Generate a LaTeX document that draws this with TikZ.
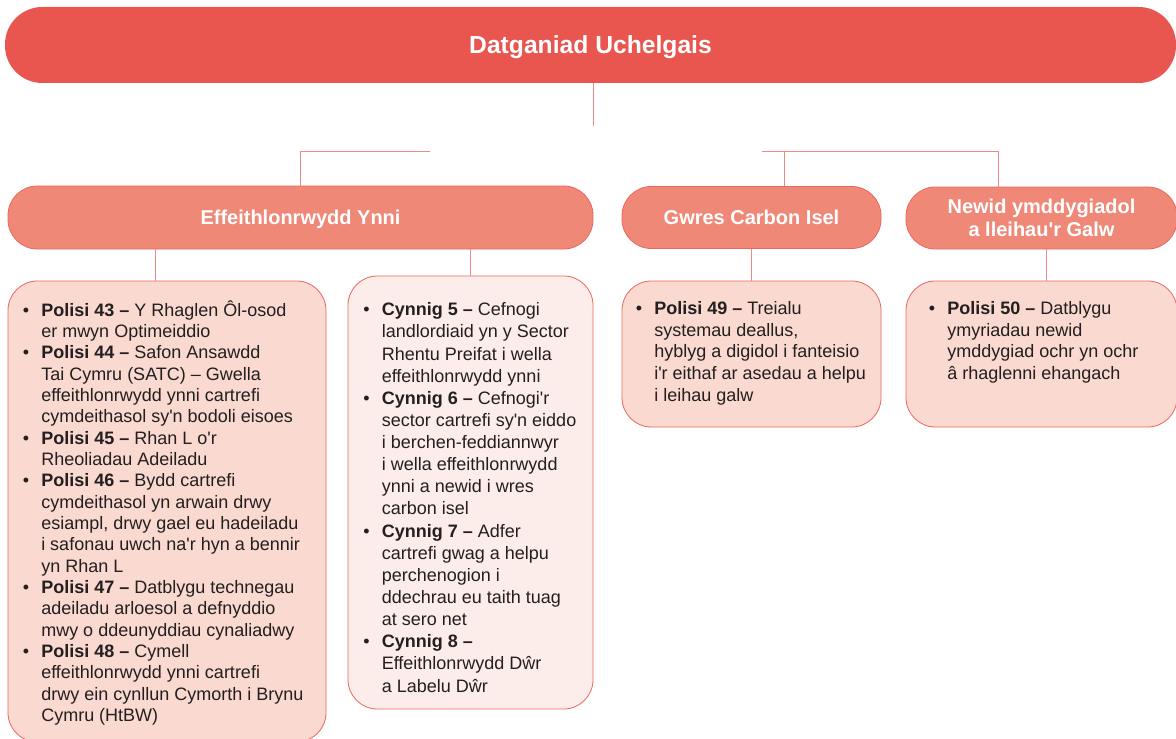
\documentclass[tikz,border=0pt]{standalone}
\usepackage{fontspec}
\setmainfont{Liberation Sans}[Ligatures=TeXOff]
\definecolor{titlered}{HTML}{E9554F}
\definecolor{midred}{HTML}{F08878}
\definecolor{boxpink}{HTML}{F9D9D0}
\definecolor{boxpale}{HTML}{FDEDEA}
\definecolor{edgered}{HTML}{EC665E}
\definecolor{linkred}{HTML}{EE8A85}
\definecolor{ink}{HTML}{231F20}
\newcommand{\pol}[1]{\llap{\textbullet\hspace{9pt}}\textbf{#1}}
\begin{document}
\begin{tikzpicture}[x=0.75pt,y=0.75pt,yscale=-1,xscale=1,
  headbox/.style={fill=titlered,draw=none,rounded corners=28pt,text=white,inner sep=0pt,text depth=0pt,
    font=\fontsize{18.5}{22}\selectfont\bfseries},
  midbox/.style={fill=midred,draw=edgered,line width=0.6pt,rounded corners=22pt,text=white,inner sep=0pt,
    align=center,minimum height=46.5pt,font=\fontsize{15}{17}\selectfont\bfseries},
  listbox/.style={fill=boxpink,draw=edgered,line width=0.6pt,rounded corners=22pt,inner sep=0pt},
  listtxt/.style={anchor=north west,inner sep=0pt,align=left,text=ink},
  link/.style={draw=linkred,line width=0.75pt}]
%set diagram to the size of the page
\useasboundingbox (0,0) rectangle (1176,738);

%Shape: Rounded Rect [id:title]
\node[headbox,minimum width=878.25pt,minimum height=57pt] (title) at (590.5,45) {Datganiad Uchelgais};

%Shape: Rounded Rect [id:themes]
\node[midbox,text depth=0pt,minimum width=438.75pt,minimum height=47.25pt] (effy) at (300.5,217.5) {Effeithlonrwydd Ynni};
\node[midbox,minimum width=194.25pt] (gwres) at (751.5,217.5) {Gwres Carbon Isel};
\node[midbox,minimum width=203.25pt] (newid) at (1041.5,218) {Newid ymddygiadol\\a lleihau'r Galw};

%Shape: Rounded Rect [id:lists]
\node[listbox,minimum width=238.5pt,minimum height=345.75pt] (b1) at (167,511.5) {};
\node[listbox,fill=boxpale,minimum width=183.75pt,minimum height=324.75pt] (b2) at (470.5,492.5) {};
\node[listbox,minimum width=194.25pt,minimum height=109.5pt] (b3) at (751.5,354) {};
\node[listbox,minimum width=203.25pt,minimum height=109.5pt] (b4) at (1041.5,354) {};

%Straight Lines [id:links]
\coordinate (c0) at (593,126);
\coordinate (c1) at (430,151);
\coordinate (c2) at (762,151);
\coordinate (c3) at (998,151);
\coordinate (c4) at (784,151);
\coordinate (c5) at (155,0);
\coordinate (c6) at (1046,0);
\draw[link] (title.south -| c0) -- (c0);
\draw[link] (c1) -- (c1 -| effy.north) -- (effy.north);
\draw[link] (c2) -- (c3) -- (c3 |- newid.north);
\draw[link] (c4) -- (c4 |- gwres.north);
\draw[link] (effy.south -| c5) -- (b1.north -| c5);
\draw[link] (effy.south -| b2.north) -- (b2.north);
\draw[link] (gwres.south) -- (b3.north);
\draw[link] (newid.south -| c6) -- (b4.north -| c6);

% Text Node
\node[listtxt,font=\fontsize{13.5}{16}\selectfont] (t1) at (41,300) {\rule{0pt}{12pt}\pol{Polisi 43 –} Y Rhaglen Ôl-osod\\
er mwyn Optimeiddio\\
\pol{Polisi 44 –} Safon Ansawdd\\
Tai Cymru (SATC) – Gwella\\
effeithlonrwydd ynni cartrefi\\
cymdeithasol sy'n bodoli eisoes\\
\pol{Polisi 45 –} Rhan L o'r\\
Rheoliadau Adeiladu\\
\pol{Polisi 46 –} Bydd cartrefi\\
cymdeithasol yn arwain drwy\\
esiampl, drwy gael eu hadeiladu\\
i safonau uwch na'r hyn a bennir\\
yn Rhan L\\
\pol{Polisi 47 –} Datblygu technegau\\
adeiladu arloesol a defnyddio\\
mwy o ddeunyddiau cynaliadwy\\
\pol{Polisi 48 –} Cymell\\
effeithlonrwydd ynni cartrefi\\
drwy ein cynllun Cymorth i Brynu\\
Cymru (HtBW)};
% Text Node
\node[listtxt,font=\fontsize{13.5}{16.6}\selectfont] (t2) at (381.5,299.5) {\rule{0pt}{12pt}\pol{Cynnig 5 –} Cefnogi\\
landlordiaid yn y Sector\\
Rhentu Preifat i wella\\
effeithlonrwydd ynni\\
\pol{Cynnig 6 –} Cefnogi'r\\
sector cartrefi sy'n eiddo\\
i berchen-feddiannwyr\\
i wella effeithlonrwydd\\
ynni a newid i wres\\
carbon isel\\
\pol{Cynnig 7 –} Adfer\\
cartrefi gwag a helpu\\
perchenogion i\\
ddechrau eu taith tuag\\
at sero net\\
\pol{Cynnig 8 –}\\
Effeithlonrwydd Dŵr\\
a Labelu Dŵr};
% Text Node
\node[listtxt,font=\fontsize{13.5}{16.3}\selectfont] (t3) at (654,298) {\rule{0pt}{12pt}\pol{Polisi 49 –} Treialu\\
systemau deallus,\\
hyblyg a digidol i fanteisio\\
i'r eithaf ar asedau a helpu\\
i leihau galw};
% Text Node
\node[listtxt,font=\fontsize{13.5}{16.3}\selectfont] (t4) at (947,298) {\rule{0pt}{12pt}\pol{Polisi 50 –} Datblygu\\
ymyriadau newid\\
ymddygiad ochr yn ochr\\
â rhaglenni ehangach};
\end{tikzpicture}
\end{document}
